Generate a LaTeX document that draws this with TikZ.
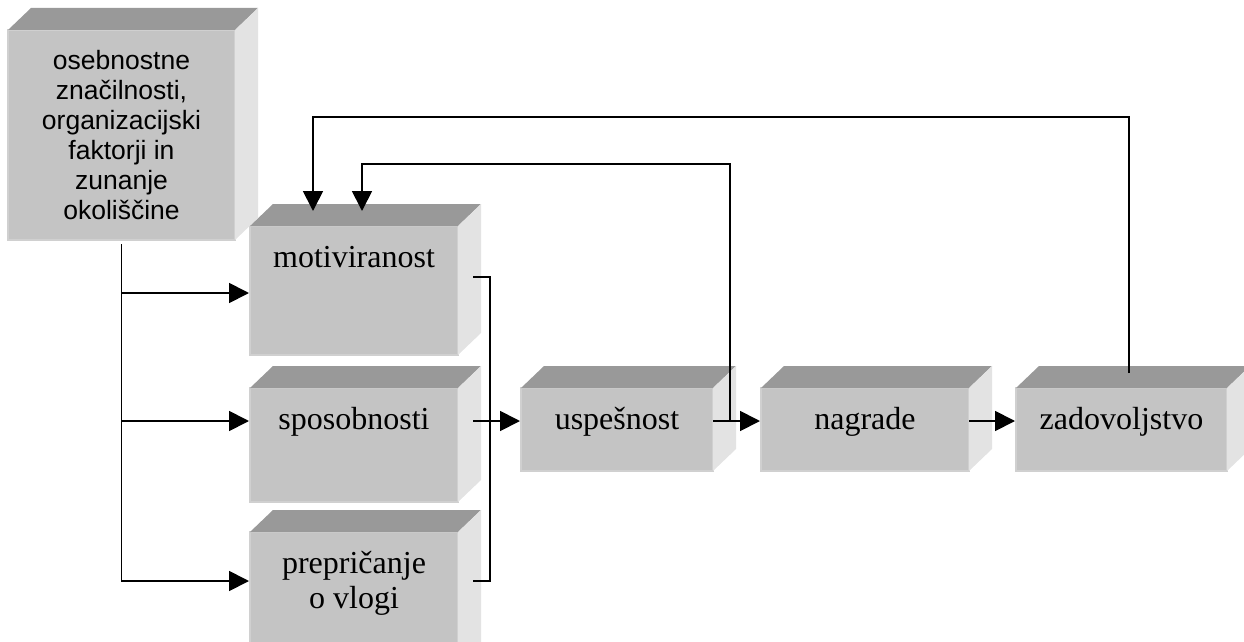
\documentclass[tikz,border=0pt]{standalone}
\usepackage{fontspec}
\setmainfont{Liberation Serif}
\newfontfamily\arialfont{Liberation Sans}
\usetikzlibrary{arrows.meta,positioning}
\definecolor{frontgray}{RGB}{196,196,196}
\definecolor{topgray}{RGB}{153,153,153}
\definecolor{sidegray}{RGB}{227,227,227}
\definecolor{edgegray}{RGB}{208,208,208}
\tikzset{
  kocka/.style={fill=frontgray,draw=edgegray,line width=1.5pt,inner sep=0pt,outer sep=0pt,align=center},
  okvir/.style={kocka,minimum width=208pt,text height=41pt,font=\fontsize{32}{35}\selectfont},
  arr/.style={line width=1.8pt,-{Triangle[length=20pt,width=20pt]},shorten >=1pt},
  lin/.style={line width=1.8pt}
}

\begin{document}
\begin{tikzpicture}[x=1pt,y=-1pt,node distance=33pt]
   \useasboundingbox (0,0) rectangle (1244,642);
   \clip (0,0) rectangle (1244,642);
   \node[kocka,anchor=north west,minimum width=227pt,minimum height=210pt,
     font=\arialfont\fontsize{26.5}{30}\selectfont] (osn) at (8,30)
     {osebnostne\\značilnosti,\\organizacijski\\faktorji in\\zunanje\\okoliščine};
   \node[okvir,text depth=88pt,anchor=north west] (mot) at (250,226) {motiviranost};
   \node[okvir,text depth=73pt] (spo) [below=of mot] {sposobnosti};
   \node[okvir,text height=76pt,text depth=62pt] (pre) [below=30pt of spo] {prepričanje\\o vlogi};
   \node[okvir,minimum width=192pt,text depth=42pt,anchor=north west] (usp) at (521,388) {uspešnost};
   \node[okvir,text depth=42pt] (nag) [right=48pt of usp] {nagrade};
   \node[okvir,minimum width=211pt,text depth=42pt] (zad) [right=47pt of nag] {zadovoljstvo};
   % 3D ploskve
   \foreach \n in {osn,mot,spo,pre,usp,nag,zad}{
     \fill[topgray] (\n.north west) -- ++(23,-22) -- ([shift={(23,-22)}]\n.north east) -- (\n.north east) -- cycle;
     \fill[sidegray] (\n.north east) -- ([shift={(23,-22)}]\n.north east) -- ([shift={(23,-22)}]\n.south east) -- (\n.south east) -- cycle;
   }
   % veje
   \draw[arr] ([yshift=-4pt]osn.south) |- ([yshift=-67pt]mot.north west);
   \draw[arr] ([yshift=-4pt]osn.south) |- ([yshift=-33pt]spo.north west);
   \draw[arr] ([yshift=-4pt]osn.south) |- ([yshift=-49pt]pre.north west);
   \draw[lin] ([shift={(15,51)}]mot.north east) -| ([shift={(32,49)}]pre.north east) -- ([shift={(15,49)}]pre.north east);
   \draw[arr] ([shift={(15,33)}]spo.north east) -- ([yshift=-33pt]usp.north west);
   \draw[arr] ([yshift=-33pt]usp.north east) -- ([yshift=-33pt]nag.north west);
   \draw[arr] ([yshift=-33pt]nag.north east) -- ([yshift=-33pt]zad.north west);
   % povratne zanke
   \draw[arr] ([shift={(17,33)}]usp.north east) -- ++(0,-257) -| ([shift={(112,-14)}]mot.north west);
   \draw[arr] ([shift={(113,-15)}]zad.north west) -- ++(0,-256) -| ([shift={(63,-14)}]mot.north west);
\end{tikzpicture}
\end{document}
